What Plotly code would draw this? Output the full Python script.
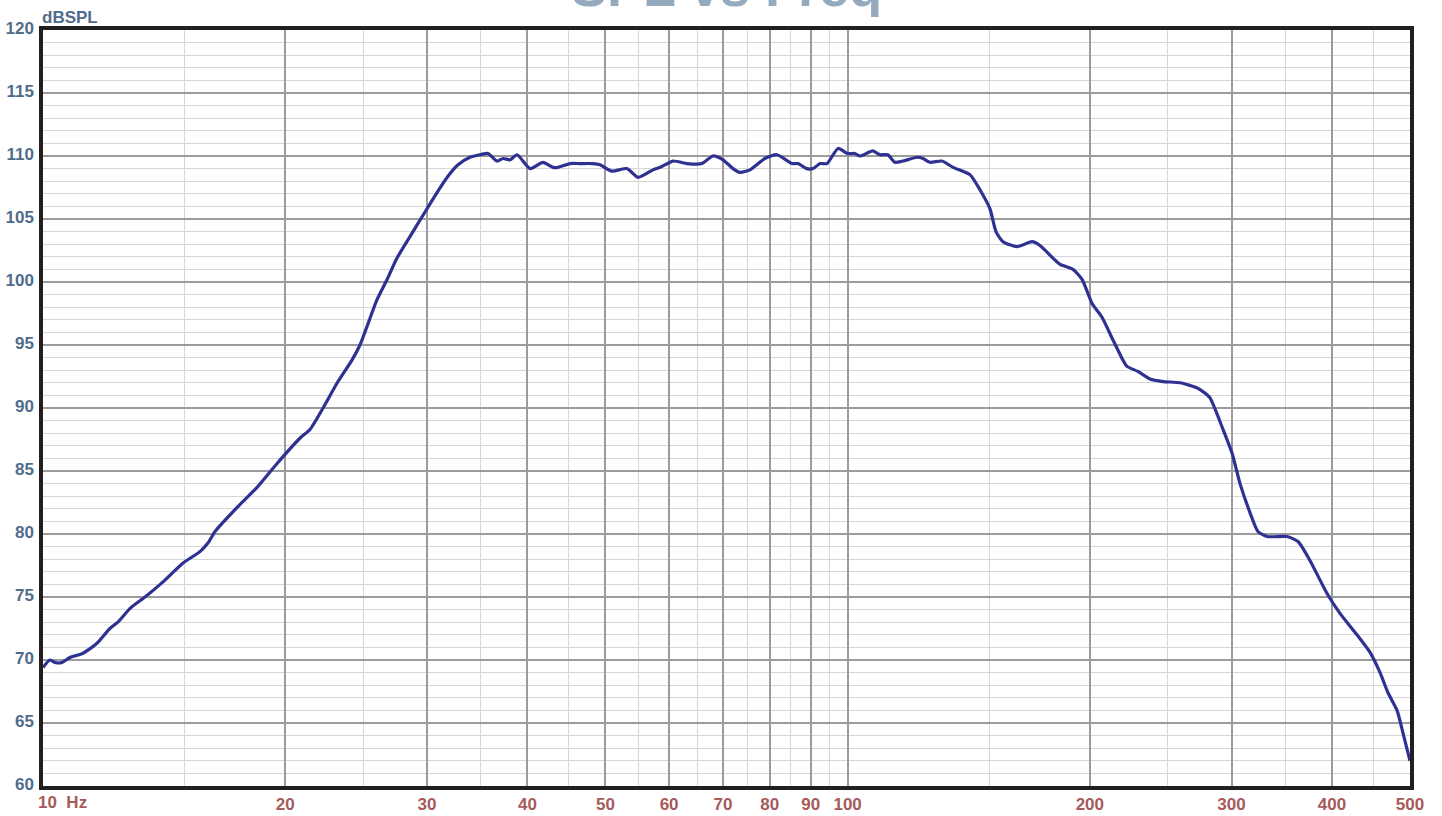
import plotly.graph_objects as go

# ---- data ----
freq_hz = [10.0, 10.2, 10.35, 10.56, 10.8, 11.18, 11.5, 11.7, 12.11, 12.39, 12.83, 13.39,
           14.1, 14.93, 15.67, 16.04, 16.36, 17.42, 18.45, 19.54, 20.86, 21.47, 22.29,
           23.26, 24.21, 24.77, 25.35, 26.01, 26.77, 27.54, 28.58, 29.67, 30.88, 31.78,
           32.8, 33.94, 34.93, 35.74, 36.67, 37.3, 38.06, 38.83, 40.3, 41.82, 43.04,
           43.66, 45.19, 46.5, 48.26, 49.23, 50.95, 53.19, 54.9, 57.3, 58.46, 60.67,
           63.15, 65.92, 68.03, 70.0, 72.04, 73.5, 75.6, 78.9, 81.7, 85.28, 86.75, 89.0,
           90.58, 92.4, 94.27, 97.3, 100.0, 102.1, 103.6, 107.5, 109.7, 112.2, 114.5,
           117.2, 122.0, 124.1, 126.6, 131.0, 135.2, 142.0, 146.1, 150.3, 152.9, 156.0,
           162.4, 169.5, 173.4, 180.0, 183.7, 190.6, 195.6, 201.3, 207.1, 213.7, 219.9,
           222.4, 229.5, 237.6, 246.6, 258.9, 271.8, 276.5, 282.1, 292.8, 300.5, 307.4,
           316.3, 323.6, 332.1, 351.7, 362.9, 375.5, 394.2, 409.2, 429.6, 446.0, 458.9,
           469.5, 481.8, 490.1, 500.0]
spl_db = [69.4, 70.0, 69.8, 69.8, 70.2, 70.5, 71.0, 71.4, 72.5, 73.0, 74.1, 75.0,
          76.2, 77.7, 78.6, 79.3, 80.2, 82.1, 83.7, 85.6, 87.6, 88.3, 90.0,
          92.1, 93.8, 95.0, 96.7, 98.6, 100.2, 101.9, 103.6, 105.3, 107.1, 108.3,
          109.3, 109.9, 110.1, 110.2, 109.6, 109.8, 109.7, 110.1, 109.0, 109.5, 109.1,
          109.1, 109.4, 109.4, 109.4, 109.3, 108.8, 109.0, 108.3, 108.9, 109.1, 109.6,
          109.4, 109.4, 110.0, 109.7, 109.0, 108.7, 108.9, 109.8, 110.1, 109.4, 109.4, 109.0,
          109.0, 109.4, 109.4, 110.6, 110.2, 110.2, 110.0, 110.4, 110.1, 110.1, 109.5,
          109.6, 109.9, 109.8, 109.5, 109.6, 109.1, 108.5, 107.3, 105.8, 104.0, 103.2,
          102.8, 103.2, 102.9, 101.9, 101.4, 101.0, 100.2, 98.3, 97.2, 95.4, 93.8,
          93.3, 92.9, 92.3, 92.1, 92.0, 91.6, 91.3, 90.8, 88.3, 86.4, 84.0,
          81.7, 80.2, 79.8, 79.8, 79.4, 77.9, 75.3, 73.7, 72.0, 70.6, 69.0,
          67.4, 66.0, 64.2, 62.0]

x_major_vals = [10, 20, 30, 40, 50, 60, 70, 80, 90, 100, 200, 300, 400, 500]
x_major_text = ["", "20", "30", "40", "50", "60", "70", "80", "90", "100", "200", "300", "400", "500"]
x_minor_vals = [15, 25, 35, 45, 55, 65, 75, 85, 95, 150, 250, 350, 450]
y_major_vals = [60, 65, 70, 75, 80, 85, 90, 95, 100, 105, 110, 115, 120]
y_minor_vals = [v for v in range(60, 121) if v % 5 != 0]

title_text = "SPL vs Freq"
y_unit = "dBSPL"
x_first_label = "10  Hz"

FONT = "Liberation Sans, Arial, sans-serif"
Y_COLOR = "#4f6c8c"
X_COLOR = "#a65a5a"

fig = go.Figure()
fig.add_trace(go.Scatter(
    x=freq_hz, y=spl_db, mode="lines",
    line=dict(color="#2f3192", width=3.2, shape="spline", smoothing=0.6),
    hoverinfo="x+y", showlegend=False,
))

fig.update_layout(
    width=1442, height=816,
    margin=dict(l=43, r=32, t=30, b=30, autoexpand=False),
    paper_bgcolor="white", plot_bgcolor="white",
    xaxis=dict(
        type="log", range=[1, 2.69897], automargin=False,
        tickmode="array", tickvals=x_major_vals, ticktext=x_major_text,
        showgrid=True, gridcolor="#9c9c9c", gridwidth=1.6,
        minor=dict(tickmode="array", tickvals=x_minor_vals, showgrid=True,
                   gridcolor="#d6d6d6", gridwidth=1.4, ticks=""),
        showline=True, mirror=True, linecolor="#231f20", linewidth=3.5,
        ticks="", ticklabelstandoff=0,
        tickfont=dict(family=FONT, size=17, color=X_COLOR, weight="bold"),
        zeroline=False, layer="below traces",
    ),
    yaxis=dict(
        range=[60, 120], automargin=False,
        tickmode="array", tickvals=y_major_vals,
        showgrid=True, gridcolor="#9c9c9c", gridwidth=1.6,
        minor=dict(tickmode="array", tickvals=y_minor_vals, showgrid=True,
                   gridcolor="#d6d6d6", gridwidth=1.4, ticks=""),
        showline=True, mirror=True, linecolor="#231f20", linewidth=3.5,
        ticks="", ticklabelstandoff=2, ticklabelshift=-2,
        tickfont=dict(family=FONT, size=17, color=Y_COLOR, weight="bold"),
        zeroline=False, layer="below traces",
    ),
    annotations=[
        dict(text=title_text, xref="paper", yref="paper", x=0.5, y=1,
             xanchor="center", yanchor="bottom", yshift=11, showarrow=False,
             font=dict(family=FONT, size=54, color="#95abbd", weight="bold")),
        dict(text=y_unit, xref="paper", yref="paper", x=0, y=1,
             xanchor="left", yanchor="bottom", xshift=-3, yshift=1, showarrow=False,
             font=dict(family=FONT, size=17, color=Y_COLOR, weight="bold")),
        dict(text=x_first_label, xref="paper", yref="paper", x=0, y=0,
             xanchor="left", yanchor="top", xshift=-7, yshift=-5, showarrow=False,
             font=dict(family=FONT, size=17, color=X_COLOR, weight="bold")),
    ],
)

fig.write_html(
    "out.html",
    config={"displayModeBar": False},
    post_script="document.body.style.margin='0';document.body.style.overflow='hidden';",
)
